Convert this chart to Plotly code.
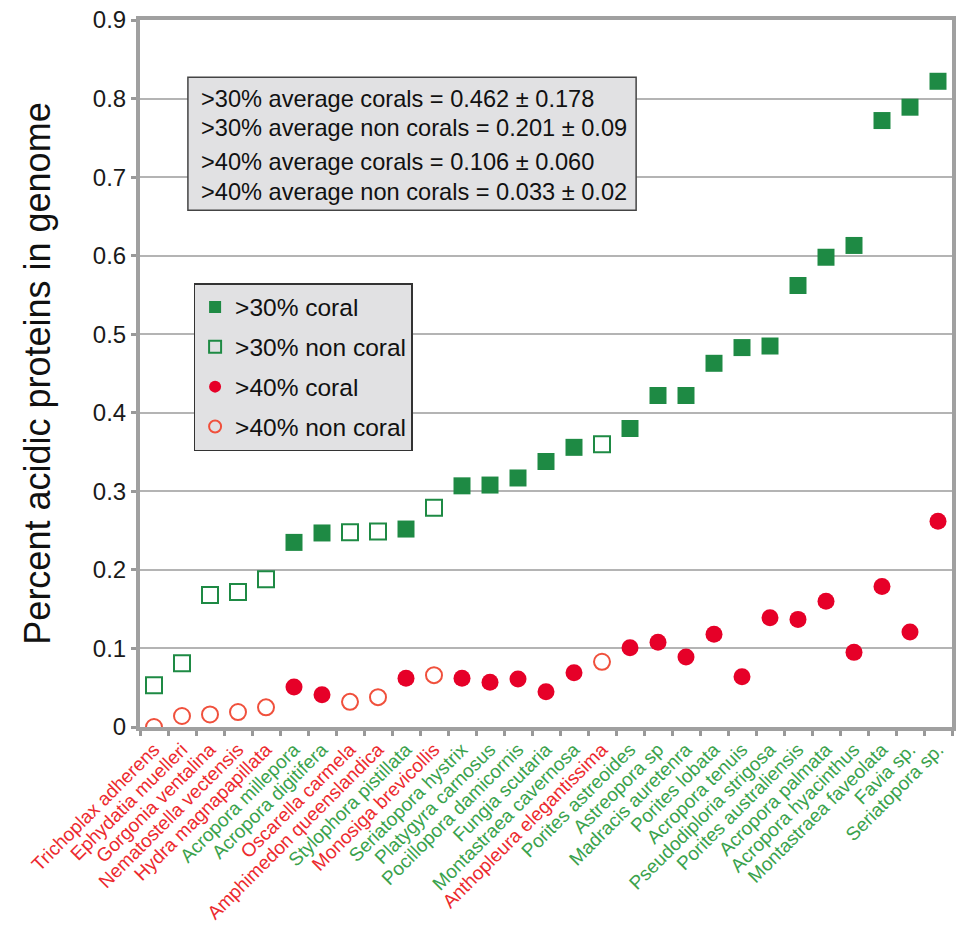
import plotly.graph_objects as go

# Species ordered along the x axis
species = [
    "Trichoplax adherens", "Ephydatia muelleri", "Gorgonia ventalina",
    "Nematostella vectensis", "Hydra magnapapillata", "Acropora millepora",
    "Acropora digitifera", "Oscarella carmela", "Amphimedon queenslandica",
    "Stylophora pistillata", "Monosiga brevicollis", "Seriatopora hystrix",
    "Platygyra carnosus", "Pocillopora damicornis", "Fungia scutaria",
    "Montastraea cavernosa", "Anthopleura elegantissima", "Porites astreoides",
    "Astreopora sp", "Madracis auretenra", "Porites lobata", "Acropora tenuis",
    "Pseudodiploria strigosa", "Porites australiensis", "Acropora palmata",
    "Acropora hyacinthus", "Montastraea faveolata", "Favia sp.", "Seriatopora sp.",
]

# 1 = coral, 0 = non coral
is_coral = [0, 0, 0, 0, 0, 1, 1, 0, 0, 1, 0, 1, 1, 1, 1, 1, 0, 1,
            1, 1, 1, 1, 1, 1, 1, 1, 1, 1, 1]

# Fraction of proteins with >30% acidic residues
pct30 = [0.053, 0.081, 0.168, 0.172, 0.188, 0.235, 0.247, 0.248, 0.249,
         0.252, 0.279, 0.307, 0.308, 0.317, 0.338, 0.356, 0.360, 0.380,
         0.422, 0.422, 0.463, 0.483, 0.485, 0.562, 0.598, 0.613, 0.772,
         0.789, 0.822]

# Fraction of proteins with >40% acidic residues
pct40 = [0.000, 0.014, 0.016, 0.019, 0.025, 0.051, 0.041, 0.032, 0.038,
         0.062, 0.066, 0.062, 0.057, 0.061, 0.045, 0.069, 0.083, 0.101,
         0.108, 0.089, 0.118, 0.064, 0.139, 0.137, 0.160, 0.095, 0.179,
         0.121, 0.262]

summary_lines = [
    ">30% average corals = 0.462 \u00b1 0.178",
    ">30% average non corals = 0.201 \u00b1 0.09",
    ">40% average corals = 0.106 \u00b1 0.060",
    ">40% average non corals = 0.033 \u00b1 0.02",
]

GREEN = "#1e8a44"
RED = "#e60028"
RED_OPEN = "#f0503c"
LABEL_GREEN = "#3aa24c"
LABEL_RED = "#ec2a2e"
FONT = "Liberation Sans, Arial, sans-serif"


def pick(values, flag):
    xs = [s for s, c in zip(species, is_coral) if c == flag]
    ys = [v for v, c in zip(values, is_coral) if c == flag]
    return xs, ys


fig = go.Figure()

x, y = pick(pct30, 1)
fig.add_trace(go.Scatter(x=x, y=y, mode="markers", name=">30% coral",
                         legendgroup="a",
                         marker=dict(symbol="square", size=17, color=GREEN,
                                     line=dict(width=0))))
x, y = pick(pct30, 0)
fig.add_trace(go.Scatter(x=x, y=y, mode="markers", name=">30% non coral",
                         legendgroup="b",
                         marker=dict(symbol="square-open", size=16, color=GREEN,
                                     line=dict(width=2, color=GREEN))))
x, y = pick(pct40, 1)
fig.add_trace(go.Scatter(x=x, y=y, mode="markers", name=">40% coral",
                         legendgroup="c",
                         marker=dict(symbol="circle", size=17, color=RED,
                                     line=dict(width=0))))
x, y = pick(pct40, 0)
fig.add_trace(go.Scatter(x=x, y=y, mode="markers", name=">40% non coral",
                         legendgroup="d",
                         marker=dict(symbol="circle-open", size=16, color=RED_OPEN,
                                     line=dict(width=2, color=RED_OPEN))))

tick_text = [
    f"<span style='color:{LABEL_GREEN if c else LABEL_RED}'>{s}</span>"
    for s, c in zip(species, is_coral)
]

fig.update_layout(
    width=965, height=937,
    margin=dict(l=140, r=13, t=20, b=210),
    paper_bgcolor="white", plot_bgcolor="white",
    font=dict(family=FONT, color="#1a1a1a"),
    showlegend=True,
    legend=dict(
        x=0.066, y=0.628, xanchor="left", yanchor="top",
        bgcolor="#e1e1e3", bordercolor="#333333", borderwidth=1.5,
        font=dict(size=24.5, color="#111111", family=FONT),
        traceorder="grouped", tracegroupgap=5,
        itemsizing="constant", itemwidth=30,
    ),
    xaxis=dict(
        type="category", categoryorder="array", categoryarray=species,
        tickmode="array", tickvals=species, ticktext=tick_text,
        tickangle=-45, tickfont=dict(size=19, family=FONT),
        tickson="boundaries", ticks="outside", ticklen=5, tickwidth=3,
        tickcolor="#999999", automargin=False,
        showline=True, linecolor="#a0a0a0", linewidth=4, mirror=True,
        showgrid=False, range=[-0.5, len(species) - 0.5],
    ),
    yaxis=dict(
        range=[0, 0.9], dtick=0.1, tick0=0,
        tickfont=dict(size=24, color="#1a1a1a", family=FONT),
        ticks="outside", ticklen=5, tickwidth=3, tickcolor="#999999",
        showline=True, linecolor="#a0a0a0", linewidth=4, mirror=True,
        showgrid=True, gridcolor="#b4b4b4", gridwidth=1.5,
        zeroline=False, automargin=False,
        title=dict(text="Percent acidic proteins in genome",
                   font=dict(size=36, color="#111111", family=FONT),
                   standoff=32),
    ),
)

# Summary statistics box
fig.add_shape(type="rect", xref="paper", yref="paper",
              x0=0.059, x1=0.611, y0=0.731, y1=0.919,
              fillcolor="#e1e1e3", line=dict(color="#444444", width=1.5),
              layer="above")
for txt, yy in zip(summary_lines, [0.888, 0.847, 0.799, 0.757]):
    fig.add_annotation(xref="paper", yref="paper", x=0.073, y=yy,
                       xanchor="left", yanchor="middle", showarrow=False,
                       text=txt, font=dict(size=23.6, color="#111111", family=FONT))

fig.write_html("out.html")
